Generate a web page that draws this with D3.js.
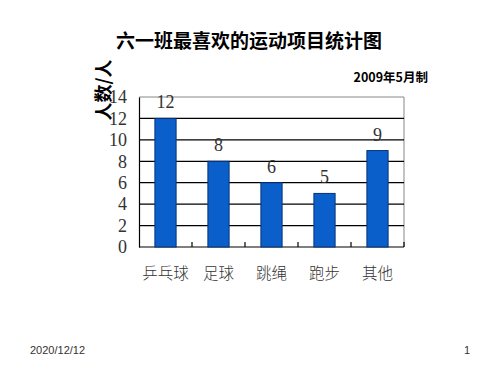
<!DOCTYPE html>
<html>
<head>
<meta charset="utf-8">
<script src="https://cdn.jsdelivr.net/npm/d3@7"></script>
<style>
  body { margin: 0; background: #fff; }
  svg { display: block; }
</style>
</head>
<body>
<div class="chart-container"></div>
<script>
let w = 500;
let h = 375;

// data
const categories = ["乒乓球", "足球", "跳绳", "跑步", "其他"];
const counts = [12, 8, 6, 5, 9];
const yTicks = [0, 2, 4, 6, 8, 10, 12, 14];

let plotLeft = 139, plotRight = 404, plotTop = 97, plotBottom = 247;

let svg = d3.select(".chart-container").append("svg")
            .attr("width", w)
            .attr("height", h)
            .attr("viewBox", `0 0 ${w} ${h}`);

let xScale = d3.scaleBand()
               .domain(categories)
               .range([plotLeft, plotRight])
               .paddingInner(0.6)
               .paddingOuter(0.3);

let yScale = d3.scaleLinear()
               .domain([0, 14])
               .range([plotBottom, plotTop]);

// plot border (top + right, gray)
svg.append("path")
   .attr("d", `M${plotLeft},${plotTop}H${plotRight}V${plotBottom}`)
   .attr("fill", "none")
   .attr("stroke", "#888")
   .attr("stroke-width", 1);

// gridlines
svg.append("g")
   .selectAll("line")
   .data(yTicks.filter(d => d > 0 && d < 14))
   .enter()
   .append("line")
   .attr("x1", plotLeft)
   .attr("x2", plotRight)
   .attr("y1", d => yScale(d))
   .attr("y2", d => yScale(d))
   .attr("stroke", "#000")
   .attr("stroke-width", 1.2);

// y axis
let yAxis = d3.axisLeft(yScale).tickValues(yTicks).tickSize(0).tickPadding(12);
let yg = svg.append("g")
   .attr("id", "y-axis")
   .attr("transform", `translate(${plotLeft}, 0)`)
   .call(yAxis);
yg.select(".domain").attr("stroke", "#000").attr("stroke-width", 1.2);
yg.selectAll("text")
  .attr("font-family", "'Liberation Serif', 'DejaVu Serif', serif")
  .attr("font-size", 18)
  .attr("fill", "#333");

// x axis: category boundary ticks pointing inwards
let bounds = d3.range(categories.length + 1).map(i => plotLeft + i * (plotRight - plotLeft) / categories.length);
svg.append("line")
   .attr("x1", plotLeft).attr("x2", plotRight)
   .attr("y1", plotBottom).attr("y2", plotBottom)
   .attr("stroke", "#000").attr("stroke-width", 1.2);
svg.append("g")
   .selectAll("line")
   .data(bounds.slice(1))
   .enter()
   .append("line")
   .attr("x1", d => d).attr("x2", d => d)
   .attr("y1", plotBottom).attr("y2", plotBottom - 5)
   .attr("stroke", "#000").attr("stroke-width", 1.2);

// bars
svg.selectAll("rect.bar")
   .data(counts)
   .enter()
   .append("rect")
   .attr("class", "bar")
   .attr("x", (d, i) => xScale(categories[i]))
   .attr("y", d => yScale(d))
   .attr("width", xScale.bandwidth())
   .attr("height", d => plotBottom - yScale(d))
   .attr("fill", "#0b5fcb")
   .attr("stroke", "#06327a")
   .attr("stroke-width", 1);

// value labels
svg.selectAll("text.val")
   .data(counts)
   .enter()
   .append("text")
   .attr("class", "val")
   .attr("x", (d, i) => xScale(categories[i]) + xScale.bandwidth() / 2)
   .attr("y", d => yScale(d) - 10)
   .attr("text-anchor", "middle")
   .attr("font-family", "'Liberation Serif', 'DejaVu Serif', serif")
   .attr("font-size", 18)
   .attr("fill", "#333")
   .text(d => d);

// category labels
svg.selectAll("text.cat")
   .data(categories)
   .enter()
   .append("text")
   .attr("class", "cat")
   .attr("x", d => xScale(d) + xScale.bandwidth() / 2)
   .attr("y", 279)
   .attr("text-anchor", "middle")
   .attr("font-family", "'Noto Sans CJK SC', sans-serif")
   .attr("font-weight", 300)
   .attr("font-size", 15.5)
   .attr("fill", "#333")
   .text(d => d);

// title
svg.append("text")
   .attr("x", 249)
   .attr("y", 48)
   .attr("text-anchor", "middle")
   .attr("font-family", "'Noto Sans CJK SC', sans-serif")
   .attr("font-weight", "bold")
   .attr("font-size", 19)
   .attr("fill", "#000")
   .text("六一班最喜欢的运动项目统计图");

svg.append("text")
   .attr("x", 428)
   .attr("y", 82)
   .attr("text-anchor", "end")
   .attr("font-family", "'Noto Sans CJK SC', sans-serif")
   .attr("font-weight", "bold")
   .attr("font-size", 12.5)
   .attr("fill", "#000")
   .text("2009年5月制");

// y axis title
svg.append("text")
   .attr("transform", "translate(110, 90) rotate(-90)")
   .attr("text-anchor", "middle")
   .attr("font-family", "'Noto Sans CJK SC', sans-serif")
   .attr("font-weight", "bold")
   .attr("font-size", 18)
   .attr("fill", "#000")
   .text("人数/人");

// footer
svg.append("text")
   .attr("x", 30).attr("y", 354)
   .attr("font-family", "'Liberation Sans', Arial, sans-serif")
   .attr("font-size", 11)
   .attr("fill", "#333")
   .text("2020/12/12");
svg.append("text")
   .attr("x", 470).attr("y", 354)
   .attr("text-anchor", "end")
   .attr("font-family", "'Liberation Sans', Arial, sans-serif")
   .attr("font-size", 11)
   .attr("fill", "#333")
   .text("1");
</script>
</body>
</html>
